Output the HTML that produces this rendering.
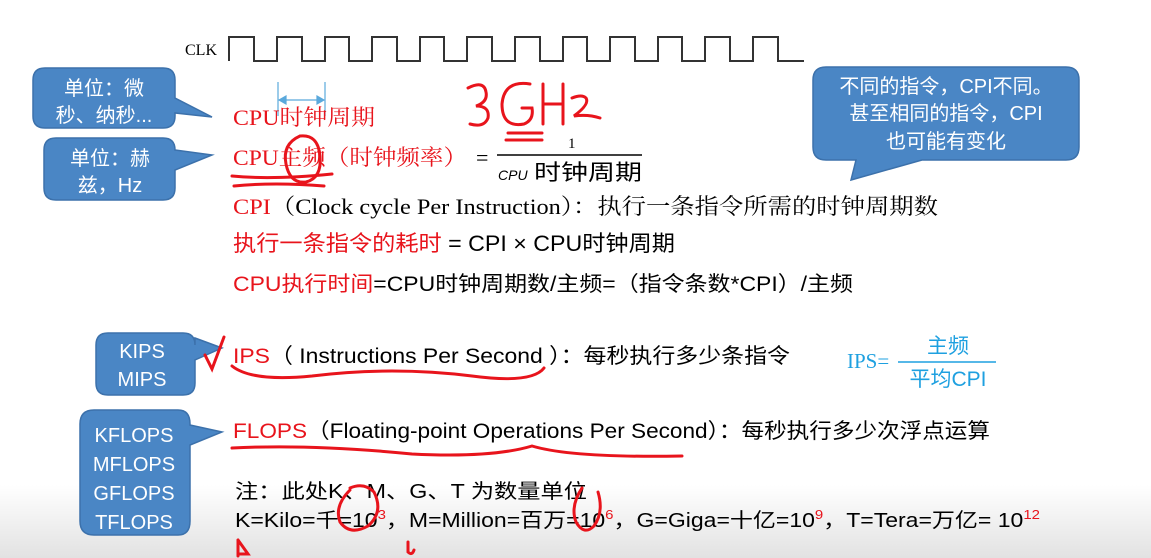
<!DOCTYPE html>
<html><head><meta charset="utf-8"><style>
html,body{margin:0;padding:0;background:#fff;}
svg{display:block}
text{font-family:"Liberation Sans","Noto Sans CJK SC",sans-serif;}
.s{font-family:"Liberation Serif","Noto Serif CJK SC","Noto Sans CJK SC",serif;}
</style></head><body>
<svg width="1151" height="558" viewBox="0 0 1151 558" xmlns="http://www.w3.org/2000/svg">
<defs>
<linearGradient id="g" x1="0" y1="0" x2="0" y2="1">
<stop offset="0" stop-color="#fff"/><stop offset="1" stop-color="#e2e2e2"/>
</linearGradient>
</defs>
<rect x="0" y="485" width="1151" height="73" fill="url(#g)"/>
<text x="185" y="55" class="s" font-size="16" fill="#000">CLK</text>
<path fill="none" stroke="#333" stroke-width="2" d="M229 61 V37 H254 V61 H277 V37 H302 V61 H325 V37 H349 V61 H372 V37 H397 V61 H420 V37 H444 V61 H467 V37 H492 V61 H515 V37 H540 V61 H563 V37 H587 V61 H610 V37 H635 V61 H658 V37 H682 V61 H705 V37 H730 V61 H753 V37 H778 V61 H804"/>
<g stroke="#5aa9dc" stroke-width="1.2" fill="#5aa9dc">
<line x1="278" y1="82" x2="278" y2="116"/><line x1="325" y1="82" x2="325" y2="116"/>
<line x1="282" y1="100" x2="321" y2="100"/>
<path d="M279 100 l7 -4 v8z"/><path d="M324 100 l-7 -4 v8z"/>
</g>
<g fill="#4a86c5" stroke="#3c71ab" stroke-width="1.5">
<path d="M45 68 H163 Q175 68 175 80 V98 L212 117 L175 113 V116 Q175 128 163 128 H45 Q33 128 33 116 V80 Q33 68 45 68Z"/>
<path d="M56 138 H163 Q175 138 175 150 V150 L212 155 L175 170 V188 Q175 200 163 200 H56 Q44 200 44 188 V150 Q44 138 56 138Z"/>
<path d="M108 333 H183 Q195 333 195 345 V338 L222 348 L195 360 V383 Q195 395 183 395 H108 Q96 395 96 383 V345 Q96 333 108 333Z"/>
<path d="M94 410 H178 Q190 410 190 424 V425 L222 432 L190 445 V521 Q190 535 178 535 H94 Q80 535 80 521 V424 Q80 410 94 410Z"/>
<path d="M826 67 H1066 Q1079 67 1079 80 V147 Q1079 160 1066 160 H922 L851 180 L856 160 H826 Q813 160 813 147 V80 Q813 67 826 67Z"/>
</g>
<g fill="#fff" font-size="20" text-anchor="middle">
<text x="104" y="95">单位：微</text><text x="104" y="122">秒、纳秒...</text>
<text x="110" y="165">单位：赫</text><text x="110" y="192">兹，Hz</text>
<text x="142" y="358">KIPS</text><text x="142" y="386">MIPS</text>
<text x="134" y="442">KFLOPS</text><text x="134" y="471">MFLOPS</text><text x="134" y="500">GFLOPS</text><text x="134" y="529">TFLOPS</text>
<text x="946" y="93">不同的指令，CPI不同。</text><text x="946" y="120">甚至相同的指令，CPI</text><text x="946" y="148">也可能有变化</text>
</g>
<text x="233" y="125" class="s" font-size="22" fill="#e8141c" textLength="142" lengthAdjust="spacingAndGlyphs">CPU时钟周期</text>
<text x="233" y="165" class="s" font-size="22" fill="#e8141c" textLength="234" lengthAdjust="spacingAndGlyphs">CPU主频（时钟频率）</text>
<text x="476" y="165" class="s" font-size="22" fill="#000">=</text>
<text x="568" y="148" class="s" font-size="15" fill="#000">1</text>
<line x1="497" y1="155" x2="642" y2="155" stroke="#000" stroke-width="1.5"/>
<text x="498" y="180" font-size="14" font-style="italic" fill="#000">CPU</text>
<text x="534" y="180" font-size="22" fill="#000" textLength="108" lengthAdjust="spacingAndGlyphs">时钟周期</text>
<text x="233" y="214" class="s" font-size="22" fill="#000" textLength="705" lengthAdjust="spacingAndGlyphs"><tspan fill="#e8141c">CPI</tspan>（Clock cycle Per Instruction）：执行一条指令所需的时钟周期数</text>
<text x="233" y="251" font-size="22" fill="#000" textLength="442" lengthAdjust="spacingAndGlyphs"><tspan fill="#e8141c">执行一条指令的耗时</tspan> = CPI × CPU时钟周期</text>
<text x="233" y="291" font-size="21" fill="#000" textLength="620" lengthAdjust="spacingAndGlyphs"><tspan fill="#e8141c">CPU执行时间</tspan>=CPU时钟周期数/主频=（指令条数*CPI）/主频</text>
<text x="233" y="363" font-size="21" fill="#000" textLength="557" lengthAdjust="spacingAndGlyphs"><tspan fill="#e8141c">IPS</tspan>（ Instructions Per Second ）：每秒执行多少条指令</text>
<text x="847" y="368" class="s" font-size="21" fill="#1ea0e0">IPS=</text>
<text x="948" y="353" font-size="21" fill="#1ea0e0" text-anchor="middle">主频</text>
<line x1="898" y1="362" x2="996" y2="362" stroke="#1ea0e0" stroke-width="1.5"/>
<text x="948" y="386" font-size="21" fill="#1ea0e0" text-anchor="middle">平均CPI</text>
<text x="233" y="438" font-size="21" fill="#000" textLength="757" lengthAdjust="spacingAndGlyphs"><tspan fill="#e8141c">FLOPS</tspan>（Floating-point Operations Per Second）：每秒执行多少次浮点运算</text>
<text x="235" y="498" font-size="20" fill="#000" textLength="352" lengthAdjust="spacingAndGlyphs">注：此处K、M、G、T 为数量单位</text>
<text x="235" y="527" font-size="20" fill="#000" textLength="805" lengthAdjust="spacingAndGlyphs">K=Kilo=千=10<tspan fill="#e8141c" font-size="13" dy="-8">3</tspan><tspan dy="8">，M=Million=百万=10</tspan><tspan fill="#e8141c" font-size="13" dy="-8">6</tspan><tspan dy="8">，G=Giga=十亿=10</tspan><tspan fill="#e8141c" font-size="13" dy="-8">9</tspan><tspan dy="8">，T=Tera=万亿= 10</tspan><tspan fill="#e8141c" font-size="13" dy="-8">12</tspan></text>
<g fill="none" stroke="#e8141c" stroke-width="3" stroke-linecap="round">
<path d="M468 88 q16 -8 18 4 q2 10 -10 14 q14 0 12 12 q-4 10 -18 6"/>
<path d="M530 84 q-26 -4 -28 20 q0 24 22 20 q10 -4 8 -16 h-10"/>
<path d="M543 84 v40 M543 104 h20 M563 84 v40"/>
<path d="M572 98 q10 -4 14 0 q4 6 -12 18 q14 -2 26 2"/>
<path d="M508 133 h34 M506 140 h36"/>
<path d="M300 136 q-18 8 -14 28 q4 20 20 18 q16 -4 14 -26 q-2 -22 -20 -20"/>
<path d="M232 176 q40 4 100 -2 M234 186 q40 -4 90 0"/>
<path d="M205 355 l7 14 l12 -32"/>
<path d="M232 366 q20 16 80 10 q80 -10 160 0 q60 8 72 -8"/>
<path d="M232 448 q80 -4 180 6 q80 4 120 -8 q40 12 150 10"/>
<path d="M350 490 q-16 16 -10 32 q10 14 28 4 q16 -14 6 -34 q-10 -10 -24 -4"/>
<path d="M582 488 q-12 18 -6 34 q8 14 18 4 q10 -14 4 -34"/>
<path d="M238 540 v16 M238 540 l10 14 h-10"/>
<path d="M408 542 v10 q4 4 6 -2"/>
</g>
</svg>
</body></html>
